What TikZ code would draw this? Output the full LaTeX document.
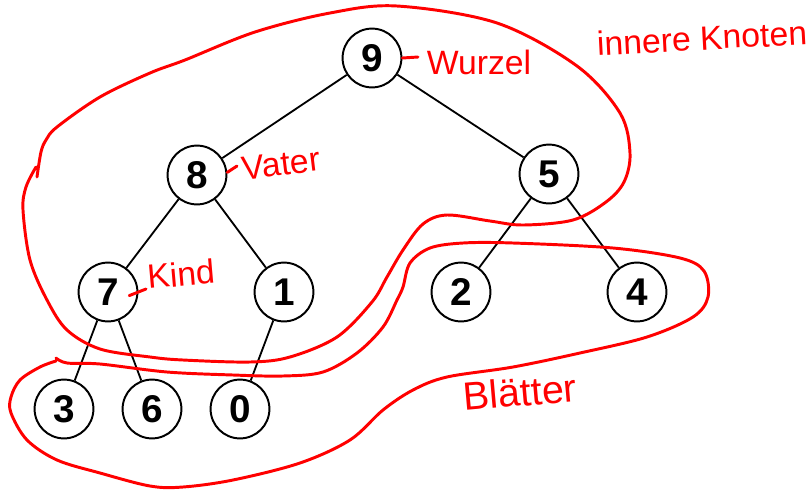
\documentclass[tikz,border=0pt]{standalone}
\usepackage{fontspec}
\setmainfont{Liberation Sans}
\usepackage{tikz}
\usetikzlibrary{positioning}
\tikzstyle{knoten} = [circle, draw=black, line width=1.4pt, minimum size=1.47cm, inner sep=0pt, font=\fontsize{27.5}{30}\selectfont\bfseries]
\tikzstyle{kante} = [black, line width=1.3pt]
\tikzstyle{stift} = [red, line width=2.1pt, line cap=round, line join=round]
\tikzstyle{notiz} = [red, inner sep=0pt, font=\fontsize{24}{26}\selectfont]

\begin{document}
\begin{tikzpicture}[x=0.025cm, y=-0.025cm]
      \useasboundingbox (0,0) rectangle (812,489);
      %%%%%%%%%%%%%%%%%%%%%%%%%%%%%%%%%%%%%%%
      % der Baum
      \draw (372,58) node (v9) [knoten] {9};
      \draw (197,175) node (v8) [knoten] {8};
      \draw (549,174) node (v5) [knoten] {5};
      \draw (108,292) node (v7) [knoten] {7};
      \draw (284,292) node (v1) [knoten] {1};
      \draw (461,292) node (v2) [knoten] {2};
      \draw (637,292) node (v4) [knoten] {4};
      \draw (64,409) node (v3) [knoten] {3};
      \draw (152,409) node (v6) [knoten] {6};
      \draw (240,409) node (v0) [knoten] {0};
      \draw[kante] (v9)--(v8);
      \draw[kante] (v9)--(v5);
      \draw[kante] (v8)--(v7);
      \draw[kante] (v8)--(v1);
      \draw[kante] (v5)--(v2);
      \draw[kante] (v5)--(v4);
      \draw[kante] (v7)--(v3);
      \draw[kante] (v7)--(v6);
      \draw[kante] (v1)--(v0);
      %%%%%%%%%%%%%%%%%%%%%%%%%%%%%%%%%%%%%%%
      % Notizen
      \node (wurzel) at (479,62) [notiz] {Wurzel};
      \node (vater) at (281,164) [notiz, rotate=7] {Vater};
      \node (kind) at (181,274) [notiz, rotate=5] {Kind};
      \node (innere) at (702,38) [notiz, rotate=3] {innere Knoten};
      \node (blaetter) at (520,392) [notiz, rotate=5, font=\fontsize{28}{30}\selectfont] {Blätter};
      \coordinate (s9) at (418,57);
      \coordinate (s8) at (237,166);
      \coordinate (s7) at (146,289);
      \draw[stift] (v9.east)--(s9);
      \draw[stift] (v8.5)--(s8);
      \draw[stift, shorten <=-7pt] (v7.east)--(s7);
      % innere Knoten
      \draw[stift] plot[smooth, tension=0.55] coordinates {(37,177) (41,152) (46,140) (57,127)
        (100,97) (150,73) (185,60) (255,32) (330,13) (397,6) (497,23) (577,66)
        (620,113) (630,153) (624,182) (606,202) (573,220) (523,225) (490,221)
        (447,215) (423,224) (403,250) (387,277) (372,302) (337,337) (290,357)
        (250,362) (183,360) (150,357) (100,349) (67,330) (47,300) (30,260)
        (23,210) (26,187) (36,167)};
      % Blaetter
      \draw[stift] plot[smooth, tension=0.55] coordinates {(56,358) (67,363) (100,364)
        (167,372) (233,375) (283,376) (323,372) (357,353) (383,327) (397,300)
        (403,287) (410,263) (430,248) (463,243) (513,243) (613,248) (680,258)
        (704,271) (708,297) (693,317) (647,337) (580,353) (513,367) (447,377)
        (413,390) (383,410) (350,440) (300,463) (233,480) (183,487) (150,486)
        (100,473) (57,460) (27,440) (11,413) (11,397) (20,380) (40,367) (56,361)};
\end{tikzpicture}
\end{document}
